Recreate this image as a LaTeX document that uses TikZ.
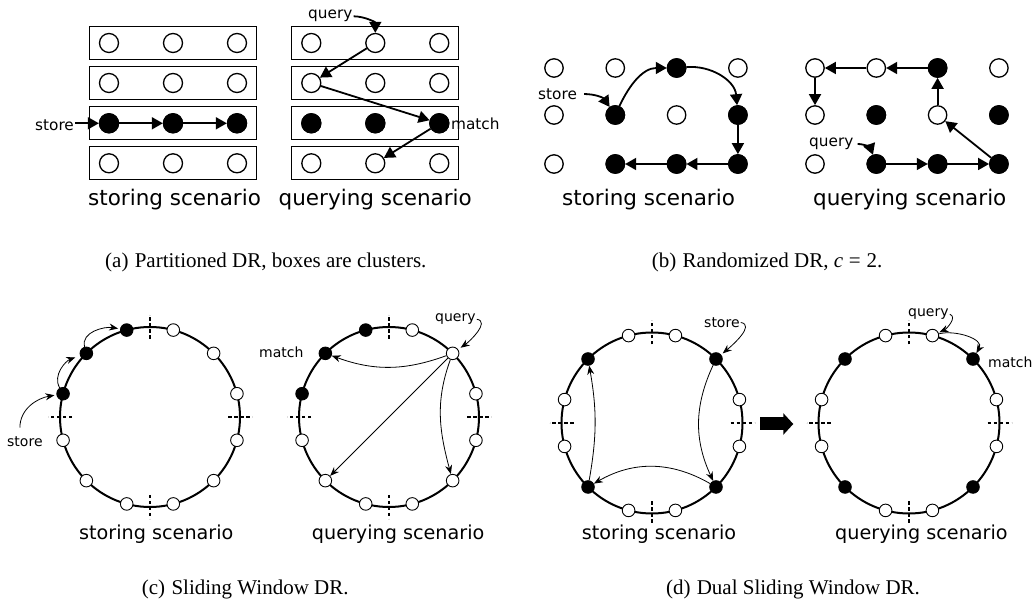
\documentclass[tikz,border=0pt]{standalone}
\usepackage{fontspec}
\setmainfont{Liberation Serif}
\newfontfamily\djv{DejaVu Sans}
\usetikzlibrary{arrows.meta,calc}
\begin{document}
\begin{tikzpicture}[x=1pt,y=1pt,
  box/.style={draw,line width=1pt,minimum width=167pt,minimum height=33pt,inner sep=0},
  aon/.style={circle,draw,line width=1.3pt,fill=white,minimum size=19pt,inner sep=0},
  afn/.style={circle,draw,line width=1.3pt,fill=black,minimum size=19pt,inner sep=0},
  bon/.style={circle,draw,line width=1.3pt,fill=white,minimum size=18.4pt,inner sep=0},
  bfn/.style={circle,draw,line width=1.3pt,fill=black,minimum size=18.4pt,inner sep=0},
  son/.style={circle,draw,line width=0.9pt,fill=white,minimum size=12.6pt,inner sep=0},
  sfn/.style={circle,draw,line width=0.9pt,fill=black,minimum size=12.6pt,inner sep=0},
  thk/.style={line width=1.8pt,-{Triangle[length=11pt,width=12pt]}},
  thn/.style={line width=0.8pt,-{Stealth[length=9pt,width=7pt]}},
  lbl/.style={font=\djv\fontsize{15.3}{18}\selectfont,inner sep=0,anchor=base west},
  slbl/.style={font=\djv\fontsize{14}{17}\selectfont,inner sep=0,anchor=base west},
  scen/.style={font=\djv\fontsize{21.5}{25}\selectfont,inner sep=0,anchor=base west},
  sscen/.style={font=\djv\fontsize{19.2}{23}\selectfont,inner sep=0,anchor=base west},
  capt/.style={font=\fontsize{21}{25}\selectfont,inner sep=0,anchor=base west},
  ring/.style={line width=2pt},
  tick/.style={line width=1.3pt,dash pattern=on 3.5pt off 2.5pt},
]
\useasboundingbox (0,0) rectangle (1036,605);

% ---------------- (a) Partitioned DR
\foreach \r/\y in {1/562,2/522,3/481.7,4/441.7}{
  \node[box] (bxl\r) at (173,\y) {};
  \node[box] (bxr\r) at (375.3,\y) {};
  \foreach \c/\x in {1/109,2/173,3/237}{\node[aon] (al\r\c) at (\x,\y) {};}
  \foreach \c/\x in {1/311.3,2/375.3,3/439.3}{\node[aon] (ar\r\c) at (\x,\y) {};}
}
\foreach \n in {al31,al32,al33,ar31,ar32,ar33} \node[afn] at (\n) {};

\node[lbl] (ast) at (35,474) {store};
\draw[thk] ([xshift=1pt]ast.east |- al31) -- (al31);
\draw[thk] (al31) -- (al32);
\draw[thk] (al32) -- (al33);

\node[lbl] (aq) at (308,586) {query};
\draw[thk] ([xshift=1pt]aq.east) to[out=0,in=90] (ar12);
\draw[thk] (ar12) -- (ar21);
\draw[thk] (ar21) -- (ar33);
\draw[thk] (ar33) -- (ar42);
\node[lbl] (am) at (451,475) {match};

\node[scen] (sa1) at (88,399.5) {storing scenario};
\node[scen] (sa2) at (278.5,399.5) {querying scenario};
\node[capt] (capa) at (105,337.7) {(a)\hspace{0.3em}Partitioned DR, boxes are clusters.};

% ---------------- (b) Randomized DR
\foreach \r/\y in {1/537,2/490,3/441}{
  \foreach \c/\dx in {1/0,2/61.3,3/122.6,4/183.9}{
    \node[bon] (gl\r\c) at (554+\dx,\y) {};
    \node[bon] (gr\r\c) at (815+\dx,\y) {};
  }
}
\foreach \n in {gl22,gl13,gl24,gl34,gl33,gl32,gr13,gr22,gr24,gr32,gr33,gr34} \node[bfn] at (\n) {};

\node[lbl] (bst) at (538,505.7) {store};
\draw[thk] ([xshift=7pt]bst.east) to[out=0,in=125] (gl22);
\draw[thk] (gl22) to[out=65,in=180] (gl13);
\draw[thk] (gl13) to[out=5,in=95] (gl24);
\draw[thk] (gl24) -- (gl34);
\draw[thk] (gl34) -- (gl33);
\draw[thk] (gl33) -- (gl32);

\node[lbl] (bq) at (809,458.3) {query};
\draw[thk] ([xshift=4pt]bq.east) to[out=0,in=110] (gr32);
\draw[thk] (gr32) -- (gr33);
\draw[thk] (gr33) -- (gr34);
\draw[thk] (gr34) -- (gr23);
\draw[thk] (gr23) -- (gr13);
\draw[thk] (gr13) -- (gr12);
\draw[thk] (gr12) -- (gr11);
\draw[thk] (gr11) -- (gr21);

\node[scen] (sb1) at (562,399.5) {storing scenario};
\node[scen] (sb2) at (813,399.5) {querying scenario};
\node[capt] (capb) at (651.7,337.7) {(b)\hspace{0.3em}Randomized DR, \textit{c}\hspace{0.28em}=\hspace{0.28em}2.};

% ---------------- (c) Sliding Window DR
\coordinate (cL) at (150,188);
\coordinate (cR) at (389,188);
\foreach \C in {cL,cR}{
  \draw[ring] (\C) circle (90);
  \foreach \a in {0,90,180,270} \draw[tick] ($(\C)+(\a:78)$) -- ($(\C)+(\a:102)$);
}
\foreach \a in {15,45,75,195,225,255,285,315,345}{
  \node[son] (cl\a) at ($(cL)+(\a:90)$) {};
  \node[son] (cr\a) at ($(cR)+(\a:90)$) {};
}
\foreach \a in {105,135,165}{
  \node[sfn] (cl\a) at ($(cL)+(\a:90)$) {};
  \node[sfn] (cr\a) at ($(cR)+(\a:90)$) {};
}
\node[slbl] (cst) at (7,158.3) {store};
\draw[thn,shorten >=2pt] ([xshift=-5pt,yshift=9pt]cst.north) to[out=90,in=190] (cl165);
\draw[thn,shorten >=5pt] (cl165) to[out=120,in=200] (cl135);
\draw[thn,shorten >=2pt] (cl135) to[out=105,in=170] (cl105);

\node[slbl] (cq) at (435,283.3) {query};
\draw[thn,shorten >=3pt] ([xshift=1pt]cq.east) to[out=-10,in=35] (cr45);
\node[slbl] (cm) at (259,247.7) {match};
\draw[thn] (cr45) to[out=200,in=-20] (cr135);
\draw[thn] (cr45) -- (cr225);
\draw[thn] (cr45) to[out=250,in=105] (cr315);

\node[sscen] (sc1) at (79,65) {storing scenario};
\node[sscen] (sc2) at (311.7,65) {querying scenario};
\node[capt] (capc) at (141.7,10) {(c)\hspace{0.3em}Sliding Window DR.};

% ---------------- (d) Dual Sliding Window DR
\coordinate (dL) at (652,182);
\coordinate (dR) at (909,182);
\foreach \C in {dL,dR}{
  \draw[ring] (\C) circle (90.5);
  \foreach \a in {0,90,180,270} \draw[tick] ($(\C)+(\a:78.5)$) -- ($(\C)+(\a:102.5)$);
}
\foreach \a in {15,75,105,165,195,255,285,345}{
  \node[son] (dl\a) at ($(dL)+(\a:90.5)$) {};
  \node[son] (dr\a) at ($(dR)+(\a:90.5)$) {};
}
\foreach \a in {45,135,225,315}{
  \node[sfn] (dl\a) at ($(dL)+(\a:90.5)$) {};
  \node[sfn] (dr\a) at ($(dR)+(\a:90.5)$) {};
}
\node[slbl] (dst) at (704,277.7) {store};
\draw[thn,shorten >=2pt] ([xshift=1pt]dst.east) to[out=-10,in=40] (dl45);
\draw[thn] (dl45) to[out=245,in=115] (dl315);
\draw[thn] (dl315) to[out=150,in=30] (dl225);
\draw[thn] (dl225) to[out=80,in=-80] (dl135);

\coordinate (ba1) at (760,181);
\coordinate (ba2) at (793.3,181);
\draw[line width=13pt,-{Triangle[length=10pt,width=21pt]}] (ba1) -- (ba2);

\node[slbl] (dq) at (908,288.3) {query};
\draw[thn,shorten >=1pt] ([xshift=1pt]dq.east) to[out=-20,in=25] (dr75);
\draw[thn] (dr75) to[out=15,in=60] (dr45);
\node[slbl] (dm) at (988,237.7) {match};

\node[sscen] (sd1) at (581.7,65) {storing scenario};
\node[sscen] (sd2) at (835,65) {querying scenario};
\node[capt] (capd) at (665.8,10) {(d)\hspace{0.3em}Dual Sliding Window DR.};
\end{tikzpicture}
\end{document}
